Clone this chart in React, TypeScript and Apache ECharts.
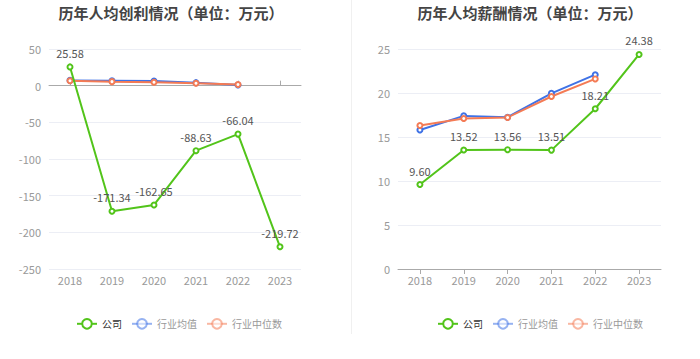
import React, { useEffect, useRef } from "react";
import * as echarts from "echarts";

const years = ["2018", "2019", "2020", "2021", "2022", "2023"];

const profitCompany = [25.58, -171.34, -162.65, -88.63, -66.04, -219.72];
const profitIndustryAvg = [7.2, 6.8, 6.3, 4.1, 0.8];
const profitIndustryMedian = [6.8, 5.5, 4.6, 3.2, 1.5];

const salaryCompany = [9.6, 13.52, 13.56, 13.51, 18.21, 24.38];
const salaryIndustryAvg = [15.8, 17.4, 17.25, 19.96, 22.08];
const salaryIndustryMedian = [16.3, 17.1, 17.22, 19.6, 21.6];

const titles = ["历年人均创利情况（单位：万元）", "历年人均薪酬情况（单位：万元）"];
const seriesNames = ["公司", "行业均值", "行业中位数"];

const GREEN = "#52c41a";
const BLUE = "#3f72e6";
const ORANGE = "#f47b55";
const FONT = "Noto Sans CJK SC";

export default function App() {
  const ref = useRef<HTMLDivElement>(null);
  useEffect(() => {
    if (!ref.current) return;
    const chart = echarts.init(ref.current, undefined, { renderer: "svg" });

    const legendData = [
      { name: seriesNames[0], textStyle: { color: "#333" } },
      { name: seriesNames[1], itemStyle: { opacity: 0.55 }, lineStyle: { opacity: 0.55 }, textStyle: { color: "#999" } },
      { name: seriesNames[2], itemStyle: { opacity: 0.55 }, lineStyle: { opacity: 0.55 }, textStyle: { color: "#999" } },
    ];

    const mkLegend = (left: number) => ({
      data: legendData,
      left,
      top: 313,
      itemWidth: 20,
      itemHeight: 12,
      itemGap: 9,
      textStyle: { fontSize: 10, fontFamily: FONT },
      selectedMode: false,
    });

    const axisLabel = { color: "#999", fontSize: 11, fontFamily: FONT };
    const splitLine = { show: true, lineStyle: { color: "#eceef5" } };

    const mkSeries = (name: string, data: number[], color: string, xi: number, yi: number, showLabel: boolean) => ({
      name,
      type: "line",
      data,
      xAxisIndex: xi,
      yAxisIndex: yi,
      symbol: "emptyCircle",
      symbolSize: 5,
      lineStyle: { color, width: 2 },
      itemStyle: { color },
      z: showLabel ? 3 : 2,
      label: showLabel
        ? { show: true, position: "top", color: "#555", fontSize: 11, fontFamily: FONT, formatter: (p: any) => Number(p.value).toFixed(2) }
        : { show: false },
    });

    chart.setOption({
      animation: false,
      textStyle: { fontFamily: FONT },
      title: [
        { text: titles[0], left: 166, top: 0, textAlign: "center", textStyle: { fontSize: 15, fontWeight: "bold", color: "#444", fontFamily: FONT } },
        { text: titles[1], left: 525, top: 0, textAlign: "center", textStyle: { fontSize: 15, fontWeight: "bold", color: "#444", fontFamily: FONT } },
      ],
      legend: [mkLegend(71), mkLegend(432)],
      grid: [
        { left: 49, right: 399, top: 49, bottom: 90 },
        { left: 398, right: 39, top: 49, bottom: 90 },
      ],
      xAxis: [
        {
          type: "category", data: years, gridIndex: 0, position: "bottom",
          axisLine: { show: false, onZero: false }, axisTick: { show: false },
          axisLabel: { ...axisLabel, margin: 5 },
        },
        {
          type: "category", data: years, gridIndex: 0,
          axisLine: { show: true, onZero: true, lineStyle: { color: "#aaa" } },
          axisTick: { show: true, alignWithLabel: true, lineStyle: { color: "#aaa" } },
          axisLabel: { show: false },
        },
        {
          type: "category", data: years, gridIndex: 1,
          axisLine: { show: true, lineStyle: { color: "#aaa" } },
          axisTick: { show: true, alignWithLabel: true, lineStyle: { color: "#aaa" } },
          axisLabel: { ...axisLabel, margin: 5 },
        },
      ],
      yAxis: [
        { type: "value", gridIndex: 0, min: -250, max: 50, interval: 50, axisLabel, splitLine, axisLine: { show: false }, axisTick: { show: false } },
        { type: "value", gridIndex: 1, min: 0, max: 25, interval: 5, axisLabel, splitLine, axisLine: { show: false }, axisTick: { show: false } },
      ],
      graphic: [
        { type: "line", shape: { x1: 351.5, y1: 0, x2: 351.5, y2: 334 }, style: { stroke: "#f0f0f0", lineWidth: 1 } },
      ],
      series: [
        mkSeries(seriesNames[1], profitIndustryAvg, BLUE, 0, 0, false),
        mkSeries(seriesNames[2], profitIndustryMedian, ORANGE, 0, 0, false),
        mkSeries(seriesNames[0], profitCompany, GREEN, 0, 0, true),
        mkSeries(seriesNames[1], salaryIndustryAvg, BLUE, 2, 1, false),
        mkSeries(seriesNames[2], salaryIndustryMedian, ORANGE, 2, 1, false),
        mkSeries(seriesNames[0], salaryCompany, GREEN, 2, 1, true),
      ],
    });
    return () => chart.dispose();
  }, []);
  return <div ref={ref} style={{ width: 700, height: 359, position: "absolute", left: 0, top: 0 }} />;
}
